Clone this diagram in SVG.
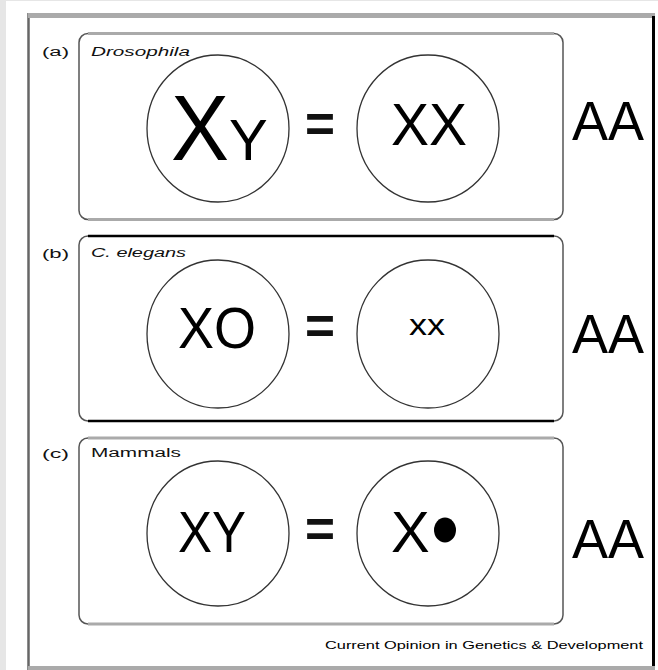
<svg xmlns="http://www.w3.org/2000/svg" width="658" height="670" viewBox="0 0 658 670">
<style>
.t{font-family:"Liberation Sans",Arial,sans-serif;fill:#000}
.eq{font-family:"Liberation Sans",Arial,sans-serif;font-weight:bold;fill:#111}
.lbl{font-family:"Liberation Sans",Arial,sans-serif;font-size:12px;fill:#111}
.cell{fill:none;stroke:#333;stroke-width:1.3}
.box{fill:none;stroke:#555;stroke-width:1.5}
.hg{stroke:#aaa;stroke-width:3}
.hb{stroke:#000;stroke-width:2.5}
</style>
<rect x="0" y="0" width="658" height="670" fill="#e6e6e6"/>
<rect x="6" y="1" width="652" height="669" fill="#fff"/>
<g id="frame">
<line x1="28.5" y1="13" x2="28.5" y2="670" stroke="#666" stroke-width="2.5"/>
<line x1="28" y1="15.5" x2="655" y2="15.5" stroke="#aaa" stroke-width="5"/>
<line x1="653.5" y1="16" x2="653.5" y2="668" stroke="#000" stroke-width="3"/>
<line x1="28" y1="668" x2="655" y2="668" stroke="#aaa" stroke-width="4"/>
</g>

<g id="panel-a">
<rect class="box" x="79" y="33.5" width="484" height="186" rx="9"/>
<line class="hg" x1="88" y1="33.5" x2="554" y2="33.5"/>
<line class="hg" x1="88" y1="219.5" x2="554" y2="219.5"/>
<text class="lbl" x="42" y="56" textLength="27" lengthAdjust="spacingAndGlyphs">(a)</text>
<text class="lbl" x="91" y="56" font-style="italic" textLength="99" lengthAdjust="spacingAndGlyphs">Drosophila</text>
<ellipse class="cell" cx="218" cy="128.5" rx="71" ry="73.5"/>
<ellipse class="cell" cx="428" cy="128.5" rx="71" ry="73.5"/>
<text class="t" x="171" y="160" font-size="92" textLength="58" lengthAdjust="spacingAndGlyphs">X</text>
<text class="t" x="229" y="160" font-size="58">Y</text>
<text class="eq" x="320" y="142" font-size="54" text-anchor="middle" textLength="30" lengthAdjust="spacingAndGlyphs">=</text>
<text class="t" x="429" y="145" font-size="59" text-anchor="middle" textLength="76" lengthAdjust="spacingAndGlyphs">XX</text>
<text class="t" x="572" y="140" font-size="55" textLength="72" lengthAdjust="spacingAndGlyphs">AA</text>
</g>

<g id="panel-b">
<rect class="box" x="79" y="236" width="484" height="185" rx="9"/>
<line class="hb" x1="88" y1="236" x2="554" y2="236"/>
<line class="hb" x1="88" y1="421" x2="554" y2="421"/>
<text class="lbl" x="42" y="258" textLength="27" lengthAdjust="spacingAndGlyphs">(b)</text>
<text class="lbl" x="91" y="257" font-style="italic" textLength="95" lengthAdjust="spacingAndGlyphs">C. elegans</text>
<ellipse class="cell" cx="218" cy="334" rx="71" ry="74"/>
<ellipse class="cell" cx="428" cy="334" rx="71" ry="74"/>
<text class="t" x="217" y="348" font-size="57" text-anchor="middle" textLength="78" lengthAdjust="spacingAndGlyphs">XO</text>
<text class="eq" x="320" y="344" font-size="54" text-anchor="middle" textLength="30" lengthAdjust="spacingAndGlyphs">=</text>
<text class="t" x="427" y="335" font-size="30" text-anchor="middle" textLength="36" lengthAdjust="spacingAndGlyphs">xx</text>
<text class="t" x="572" y="353" font-size="55" textLength="72" lengthAdjust="spacingAndGlyphs">AA</text>
</g>

<g id="panel-c">
<rect class="box" x="79" y="438" width="484" height="186" rx="9"/>
<line class="hg" x1="88" y1="438" x2="554" y2="438"/>
<line class="hg" x1="88" y1="624" x2="554" y2="624"/>
<text class="lbl" x="42" y="458" textLength="27" lengthAdjust="spacingAndGlyphs">(c)</text>
<text class="lbl" x="91" y="457" textLength="90" lengthAdjust="spacingAndGlyphs">Mammals</text>
<ellipse class="cell" cx="218" cy="533.5" rx="71" ry="72.5"/>
<ellipse class="cell" cx="428" cy="533.5" rx="71" ry="72.5"/>
<text class="t" x="212" y="552" font-size="58" text-anchor="middle" textLength="68" lengthAdjust="spacingAndGlyphs">XY</text>
<text class="eq" x="320" y="547" font-size="54" text-anchor="middle" textLength="30" lengthAdjust="spacingAndGlyphs">=</text>
<text class="t" x="391" y="552" font-size="58">X</text>
<ellipse cx="445" cy="530" rx="11" ry="12.5" fill="#000"/>
<text class="t" x="572" y="558" font-size="55" textLength="72" lengthAdjust="spacingAndGlyphs">AA</text>
</g>

<text id="credit" class="t" x="325" y="649" font-size="11" fill="#222" textLength="318" lengthAdjust="spacingAndGlyphs">Current Opinion in Genetics &amp; Development</text>
</svg>
